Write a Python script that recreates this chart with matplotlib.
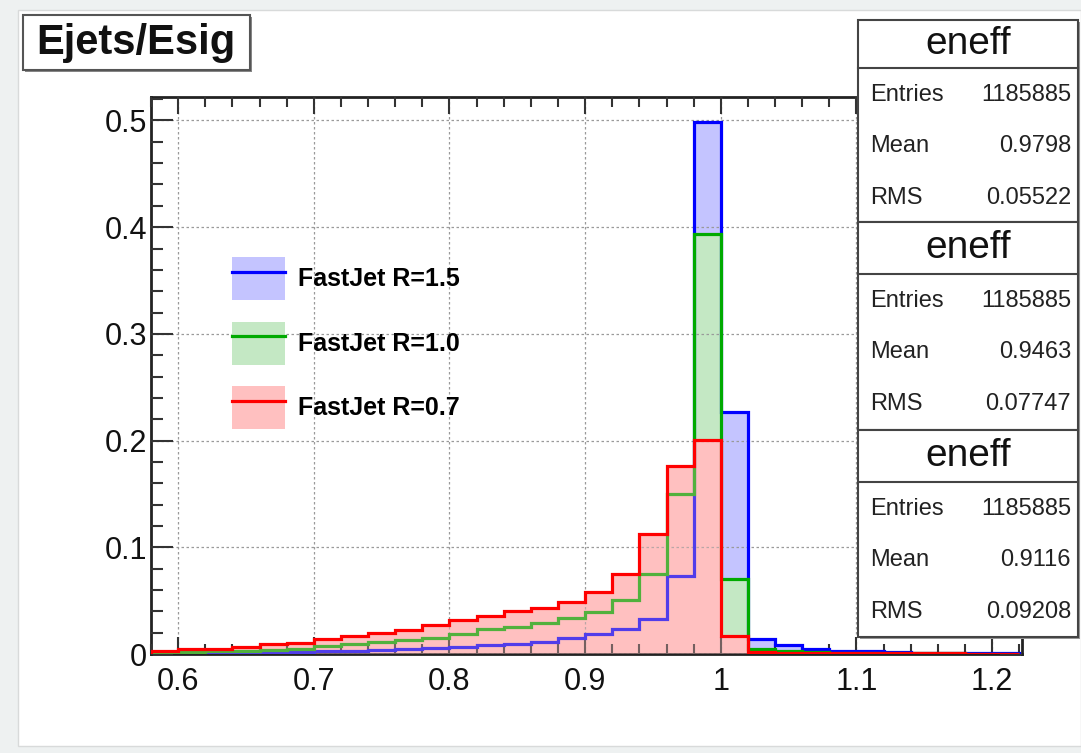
import matplotlib
matplotlib.use('Agg')
import matplotlib.pyplot as plt
import numpy as np
from matplotlib.patches import Rectangle, Patch
from matplotlib.lines import Line2D
from matplotlib.ticker import MultipleLocator, FuncFormatter

plt.rcParams['font.family'] = ['Liberation Sans', 'DejaVu Sans']

# histogram bins 0.58 .. 1.22, width 0.02
edges = np.round(np.arange(0.58, 1.2201, 0.02), 2)

r15 = [0.0004, 0.0005, 0.0006, 0.0010, 0.0015, 0.0018, 0.0025, 0.0030,
       0.0036, 0.0045, 0.0053, 0.0066, 0.0085, 0.0097, 0.0116, 0.0148,
       0.0191, 0.0238, 0.0326, 0.0734, 0.499, 0.227, 0.0138, 0.0082,
       0.0050, 0.0030, 0.0025, 0.0018, 0.0014, 0.0010, 0.0008, 0.0006]
r10 = [0.0012, 0.0020, 0.0025, 0.0027, 0.0041, 0.0050, 0.0072, 0.0094,
       0.0113, 0.0135, 0.0152, 0.0185, 0.0232, 0.0254, 0.0295, 0.0342,
       0.0398, 0.0505, 0.0750, 0.150, 0.394, 0.0703, 0.0044, 0.0028,
       0.0016, 0.0012, 0.0010, 0.0008, 0.0007, 0.0006, 0.0004, 0.0004]
r07 = [0.0028, 0.0044, 0.0046, 0.0066, 0.0097, 0.0107, 0.0138, 0.0169,
       0.0198, 0.0226, 0.0268, 0.0317, 0.0357, 0.0404, 0.0430, 0.0489,
       0.0583, 0.0750, 0.1126, 0.176, 0.201, 0.0170, 0.0015, 0.0013,
       0.0012, 0.0011, 0.0010, 0.0009, 0.0008, 0.0008, 0.0001, 0.0001]

labels = ['FastJet R=1.5', 'FastJet R=1.0', 'FastJet R=0.7']
entries = ['1185885', '1185885', '1185885']
means = ['0.9798', '0.9463', '0.9116']
rmss = ['0.05522', '0.07747', '0.09208']

line_cols = ['#0000ff', '#00aa00', '#ff0000']
fill_cols = ['#c4c4ff', '#c4e8c4', '#ffc0c0']

W, H = 1081, 753
fig = plt.figure(figsize=(W / 100, H / 100), dpi=100)
fig.patch.set_facecolor('#eef1f1')


def fx(x):
    return x / W


def fy(y):
    return 1 - y / H


# white canvas panel
fig.patches.append(Rectangle((fx(18), fy(746)), fx(1081) - fx(18), fy(10) - fy(746),
                             transform=fig.transFigure, facecolor='white',
                             edgecolor='#d8dada', lw=1, zorder=-1))

ax = fig.add_axes([fx(151), fy(654), fx(1022) - fx(151), fy(97) - fy(654)])
ax.set_xlim(0.58, 1.222)
ax.set_ylim(0, 0.522)

# fills, then lines; red fill laid over again so lines under it look tinted
for vals, fc, z in zip([r15, r10, r07], fill_cols, [2.0, 2.1, 2.2]):
    ax.stairs(vals, edges, fill=True, color=fc, zorder=z)
ax.stairs(r15, edges, color=line_cols[0], lw=2.3, zorder=3.0)
ax.stairs(r10, edges, color=line_cols[1], lw=2.3, zorder=3.1)
ax.stairs(r07, edges, fill=True, color=fill_cols[2], alpha=0.32, zorder=3.2)
ax.stairs(r07, edges, color=line_cols[2], lw=2.3, zorder=3.3)

ax.set_axisbelow(False)
ax.grid(True, which='major', ls=(0, (2, 2)), color='#9a9a9a', lw=0.9)

ax.xaxis.set_major_locator(MultipleLocator(0.1))
ax.xaxis.set_minor_locator(MultipleLocator(0.02))
ax.yaxis.set_major_locator(MultipleLocator(0.1))
ax.yaxis.set_minor_locator(MultipleLocator(0.02))
fmt = FuncFormatter(lambda v, p: f'{v:g}')
ax.xaxis.set_major_formatter(fmt)
ax.yaxis.set_major_formatter(fmt)
ax.tick_params(which='both', direction='in', top=True, right=True,
               width=1.5, color='#333333', labelsize=22, labelcolor='#111111')
ax.tick_params(axis='x', which='major', length=12, pad=9)
ax.tick_params(axis='x', which='minor', length=7)
ax.tick_params(axis='y', which='major', length=16, pad=3)
ax.tick_params(axis='y', which='minor', length=8.5)
for s in ax.spines.values():
    s.set_linewidth(2)
    s.set_color('#222222')

handles = [(Patch(facecolor=fc, edgecolor='none'), Line2D([], [], color=lc, lw=2.3))
           for fc, lc in zip(fill_cols, line_cols)]
ax.legend(handles, labels, loc='upper left', bbox_to_anchor=(fx(232), fy(257)),
          bbox_transform=fig.transFigure, frameon=False, borderpad=0,
          borderaxespad=0, handlelength=2.1, handleheight=2.27,
          labelspacing=0.86, handletextpad=0.52,
          prop={'weight': 'bold', 'size': 18})

# title box
fig.patches.append(Rectangle((fx(25), fy(72)), fx(252) - fx(25), fy(17) - fy(72),
                             transform=fig.transFigure, facecolor='#888888',
                             edgecolor='none', zorder=5))
fig.patches.append(Rectangle((fx(23), fy(70)), fx(250) - fx(23), fy(15) - fy(70),
                             transform=fig.transFigure, facecolor='white',
                             edgecolor='#555555', lw=1.5, zorder=5.1))
fig.text(fx(136), fy(43), 'Ejets/Esig', ha='center', va='center',
         fontsize=30, weight='bold', color='#111111', zorder=6)

# stats boxes
tops = [20, 222, 430]
seps = [68, 274, 482]
bots = [222, 430, 637]
for i in range(3):
    t, sp, b = tops[i], seps[i], bots[i]
    fig.patches.append(Rectangle((fx(860), fy(b + 2)), fx(1080) - fx(860), fy(t + 2) - fy(b + 2),
                                 transform=fig.transFigure, facecolor='#999999',
                                 edgecolor='none', zorder=5))
    fig.patches.append(Rectangle((fx(858), fy(b)), fx(1078) - fx(858), fy(t) - fy(b),
                                 transform=fig.transFigure, facecolor='white',
                                 edgecolor='#444444', lw=1.5, zorder=5.1))
    fig.add_artist(Line2D([fx(858), fx(1078)], [fy(sp), fy(sp)],
                          transform=fig.transFigure, color='#444444', lw=1.5, zorder=5.2))
    fig.text(fx(968), fy((t + sp) / 2), 'eneff', ha='center', va='center',
             fontsize=28, color='#111111', zorder=6)
    rows = [('Entries', entries[i]), ('Mean', means[i]), ('RMS', rmss[i])]
    for k, (name, val) in enumerate(rows):
        yy = fy(sp + 27 + 51.5 * k)
        fig.text(fx(870), yy, name, ha='left', va='center', fontsize=17,
                 color='#222222', zorder=6)
        fig.text(fx(1071), yy, val, ha='right', va='center', fontsize=17,
                 color='#222222', zorder=6)

fig.savefig('out.png', dpi=100)
